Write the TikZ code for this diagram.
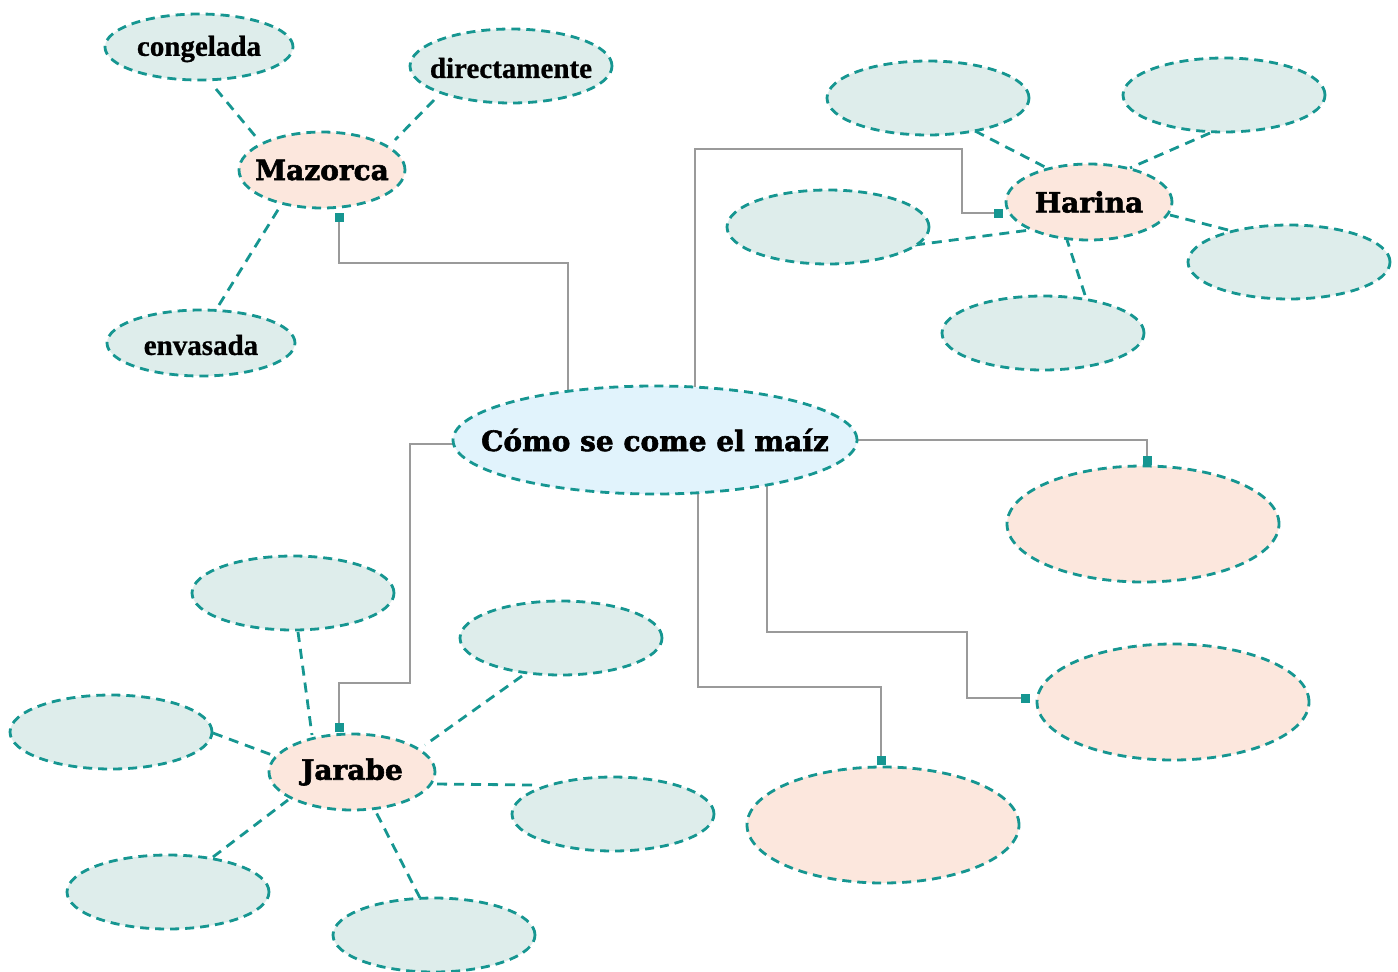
\documentclass[tikz,border=0pt]{standalone}
\usepackage{fontspec}
\setmainfont{Liberation Serif}[BoldFeatures={FakeBold=0.8}]
\newfontfamily\headfont{DejaVu Serif}[BoldFeatures={FakeBold=2}]
\usetikzlibrary{shapes.geometric,backgrounds}
\definecolor{teal1}{RGB}{22,150,145}
\definecolor{peach}{RGB}{252,231,221}
\definecolor{mint}{RGB}{222,237,235}
\definecolor{sky}{RGB}{225,243,252}
\definecolor{gline}{RGB}{154,154,154}
\tikzset{
  oval/.style={ellipse, draw=teal1, line width=2.8pt, dash pattern=on 9pt off 6pt, inner sep=0pt},
  sat/.style={oval, fill=mint, minimum width=202pt, minimum height=74pt},
  smalltxt/.style={font=\fontsize{29}{31}\selectfont\bfseries, yshift=-2pt},
  headtxt/.style={font=\headfont\fontsize{28}{30}\selectfont\bfseries},
  hub/.style={oval, fill=peach, minimum width=166pt, minimum height=76pt},
  big/.style={oval, fill=peach, minimum width=272pt, minimum height=116pt},
  dl/.style={draw=teal1, line width=2.8pt, dash pattern=on 10pt off 7pt},
  gl/.style={draw=gline, line width=2.6pt},
  sq/.style={fill=teal1, minimum size=9pt, inner sep=0pt, outer sep=0pt},
}
\begin{document}
\begin{tikzpicture}[x=1pt,y=-1pt]
\useasboundingbox (0,0) rectangle (1398,972);
% central
\node[oval, fill=sky, minimum width=404pt, minimum height=108pt, label={[headtxt]center:Cómo se come el maíz}] (ctr) at (655,440) {};
% hubs
\node[hub, label={[headtxt]center:Mazorca}] (maz) at (322,170) {};
\node[hub, label={[headtxt]center:Harina}] (har) at (1089,202) {};
\node[hub, label={[headtxt]center:Jarabe}] (jar) at (352,772) {};
% Mazorca satellites
\node[sat, minimum width=188pt, minimum height=66pt, label={[smalltxt]center:congelada}] (cong) at (199,47) {};
\node[sat, label={[smalltxt]center:directamente}] (dir) at (511,66) {};
\node[sat, minimum width=188pt, minimum height=66pt, label={[smalltxt]center:envasada}] (env) at (201,343) {};
% Harina satellites
\node[sat] (htl) at (928,98) {};
\node[sat] (htr) at (1224,95) {};
\node[sat] (hl) at (828,227) {};
\node[sat] (hr) at (1289,262) {};
\node[sat] (hb) at (1043,333) {};
% Jarabe satellites
\node[sat] (jt) at (293,593) {};
\node[sat] (jur) at (561,638) {};
\node[sat] (jl) at (111,732) {};
\node[sat] (jr) at (613,814) {};
\node[sat] (jll) at (168,892) {};
\node[sat] (jb) at (434,935) {};
% big peach
\node[big] (p1) at (1143,524) {};
\node[big] (p2) at (1173,702) {};
\node[big] (p3) at (883,825) {};
% connector ends
\coordinate (eM) at (339,217);
\coordinate (eH) at (998,213);
\coordinate (eP1) at (1147,460);
\coordinate (eP2) at (1025,698);
\coordinate (eP3) at (881,760);
\coordinate (eJ) at (339,727);
\begin{scope}[on background layer]
% dashed links
\draw[dl] ([shift={(17,42)}]cong.center) -- ([shift={(-66,-33)}]maz.center);
\draw[dl] ([shift={(-77,34)}]dir.center) -- ([shift={(73,-30)}]maz.center);
\draw[dl] ([shift={(18,-38)}]env.center) -- ([shift={(-41,35)}]maz.center);
\draw[dl] ([shift={(47,33)}]htl.center) -- ([shift={(-44,-35)}]har.center);
\draw[dl] ([shift={(-14,38)}]htr.center) -- ([shift={(41,-34)}]har.center);
\draw[dl] ([shift={(87,18)}]hl.center) -- ([shift={(-59,28)}]har.center);
\draw[dl] ([shift={(-61,-32)}]hr.center) -- ([shift={(81,13)}]har.center);
\draw[dl] ([shift={(42,-38)}]hb.center) -- ([shift={(-22,38)}]har.center);
\draw[dl] ([shift={(5,39)}]jt.center) -- ([shift={(-40,-37)}]jar.center);
\draw[dl] ([shift={(-39,38)}]jur.center) -- ([shift={(73,-27)}]jar.center);
\draw[dl] ([shift={(102,1)}]jl.center) -- ([shift={(-80,-17)}]jar.center);
\draw[dl] ([shift={(-81,-29)}]jr.center) -- ([shift={(83,12)}]jar.center);
\draw[dl] ([shift={(45,-35)}]jll.center) -- ([shift={(-64,28)}]jar.center);
\draw[dl] ([shift={(-14,-37)}]jb.center) -- ([shift={(24,40)}]jar.center);
% gray elbow connectors
\draw[gl] ([shift={(-87,0)}]ctr.center) -- (568,263) -- (339,263) -- (eM);
\draw[gl] ([shift={(40,0)}]ctr.center) -- (695,149) -- (962,149) -- (962,213) -- (eH);
\draw[gl] (ctr.center) -- (1147,440) -- (eP1);
\draw[gl] ([shift={(112,0)}]ctr.center) -- (767,632) -- (967,632) -- (967,698) -- (eP2);
\draw[gl] ([shift={(43,0)}]ctr.center) -- (698,687) -- (881,687) -- (eP3);
\draw[gl] ([shift={(0,4)}]ctr.center) -- (410,444) -- (410,683) -- (339,683) -- (eJ);
\end{scope}
\foreach \e in {eM,eH,eP1,eP2,eP3,eJ} \node[sq] at (\e) {};
\end{tikzpicture}
\end{document}
